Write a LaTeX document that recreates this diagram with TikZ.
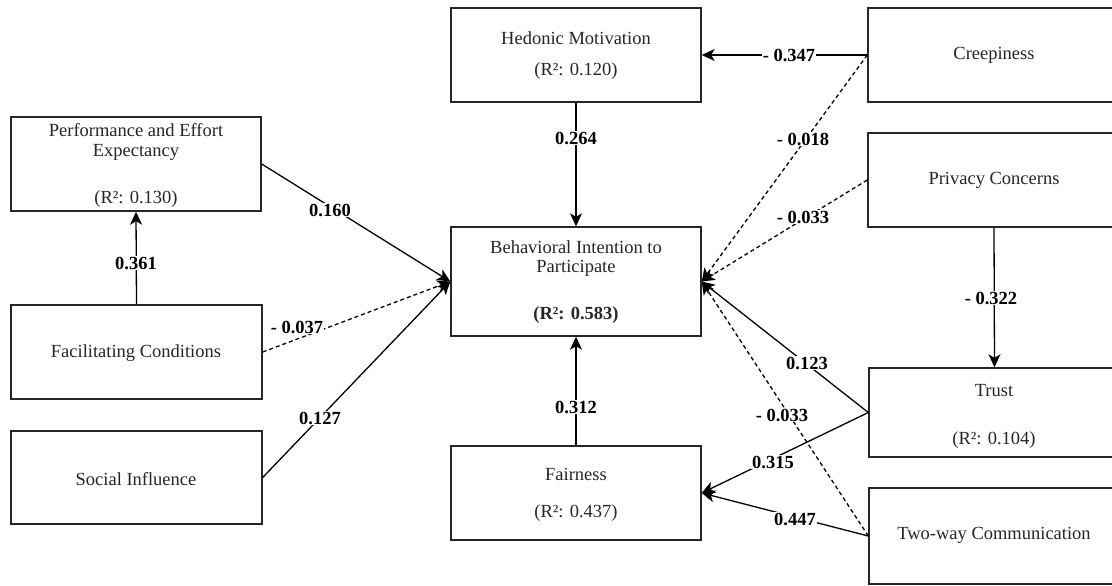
\documentclass[tikz,border=0pt]{standalone}
\usepackage{fontspec}
\setmainfont{Liberation Serif}
\usetikzlibrary{arrows.meta}
\begin{document}
\begin{tikzpicture}[x=1pt,y=-1pt,
  box/.style={draw=black!85, line width=1.5pt, inner sep=0pt, outer sep=0.7pt, rectangle},
  txt/.style={inner sep=0pt, font=\fontsize{18.5}{22}\selectfont, text=black!85},
  coef/.style={fill=white, inner sep=1.2pt, font=\fontsize{18.5}{22}\selectfont\bfseries},
  path/.style={line width=1.3pt, -{Stealth[length=13pt,width=12pt,inset=3.5pt]}},
  weak/.style={path, dash pattern=on 4pt off 3pt}]
\useasboundingbox (0,0) rectangle (1112,586);

% construct boxes
\node[box, minimum width=250pt, minimum height=94pt]  (PE) at (136,164) {};
\node[box, minimum width=251pt, minimum height=94pt]  (FC) at (136.5,352) {};
\node[box, minimum width=251pt, minimum height=93pt]  (SI) at (136.5,477.5) {};
\node[box, minimum width=250pt, minimum height=94pt]  (HM) at (576,55) {};
\node[box, minimum width=250pt, minimum height=109pt] (BI) at (576,281.5) {};
\node[box, minimum width=250pt, minimum height=94pt]  (FA) at (576,493) {};
\node[box, minimum width=252pt, minimum height=94pt]  (CR) at (994,55) {};
\node[box, minimum width=252pt, minimum height=94pt]  (PC) at (994,180) {};
\node[box, minimum width=251pt, minimum height=89pt]  (TR) at (994.5,412.5) {};
\node[box, minimum width=251pt, minimum height=96pt]  (TW) at (994.5,536) {};

% box texts
\node[txt] (PEa) at (136,130) {Performance and Effort};
\node[txt] (PEb) at (136,152) {Expectancy};
\node[txt] (PEc) at (136,199) {(R²: 0.130)};
\node[txt] (FCa) at (136,353) {Facilitating Conditions};
\node[txt] (SIa) at (136,479) {Social Influence};
\node[txt] (HMa) at (576,38) {Hedonic Motivation};
\node[txt] (HMb) at (576,71) {(R²: 0.120)};
\node[txt] (BIa) at (576,247) {Behavioral Intention to};
\node[txt] (BIb) at (576,268) {Participate};
\node[txt, font=\fontsize{18.5}{22}\selectfont\bfseries] (BIc) at (576,315) {(R²: 0.583)};
\node[txt] (FAa) at (576,474) {Fairness};
\node[txt] (FAb) at (576,513) {(R²: 0.437)};
\node[txt] (CRa) at (994,55) {Creepiness};
\node[txt] (PCa) at (994,180) {Privacy Concerns};
\node[txt] (TRa) at (994,391) {Trust};
\node[txt] (TRb) at (994,440) {(R²: 0.104)};
\node[txt] (TWa) at (994,535) {Two-way Communication};

% structural paths
\draw[path] (FC.north) -- (PE.south);
\draw[path] (PE.east) -- (BI.west);
\draw[weak] (FC.east) -- (BI.west);
\draw[path] (SI.east) -- (BI.west);
\draw[path] (HM.south) -- (BI.north);
\draw[path] (FA.north) -- (BI.south);
\draw[path] (CR.west) -- (HM.east);
\draw[weak] (CR.west) -- (BI.east);
\draw[weak] (PC.west) -- (BI.east);
\draw[path] (PC.south) -- (TR.north);
\draw[path] (TR.west) -- (BI.east);
\draw[weak] (TW.west) -- (BI.east);
\draw[path] (TR.west) -- (FA.east);
\draw[path] (TW.west) -- (FA.east);

% path coefficients
\node[coef] (c1)  at (136,263) {0.361};
\node[coef] (c2)  at (330,210) {0.160};
\node[coef] (c3)  at (297,327) {- 0.037};
\node[coef] (c4)  at (320,418) {0.127};
\node[coef] (c5)  at (576,138) {0.264};
\node[coef] (c6)  at (576,407) {0.312};
\node[coef] (c7)  at (789,55)  {- 0.347};
\node[coef] (c8)  at (803,139) {- 0.018};
\node[coef] (c9)  at (803,217) {- 0.033};
\node[coef] (c10) at (991,298) {- 0.322};
\node[coef] (c11) at (807,363) {0.123};
\node[coef] (c12) at (782,415) {- 0.033};
\node[coef] (c13) at (773,462) {0.315};
\node[coef] (c14) at (795,519) {0.447};
\end{tikzpicture}
\end{document}
